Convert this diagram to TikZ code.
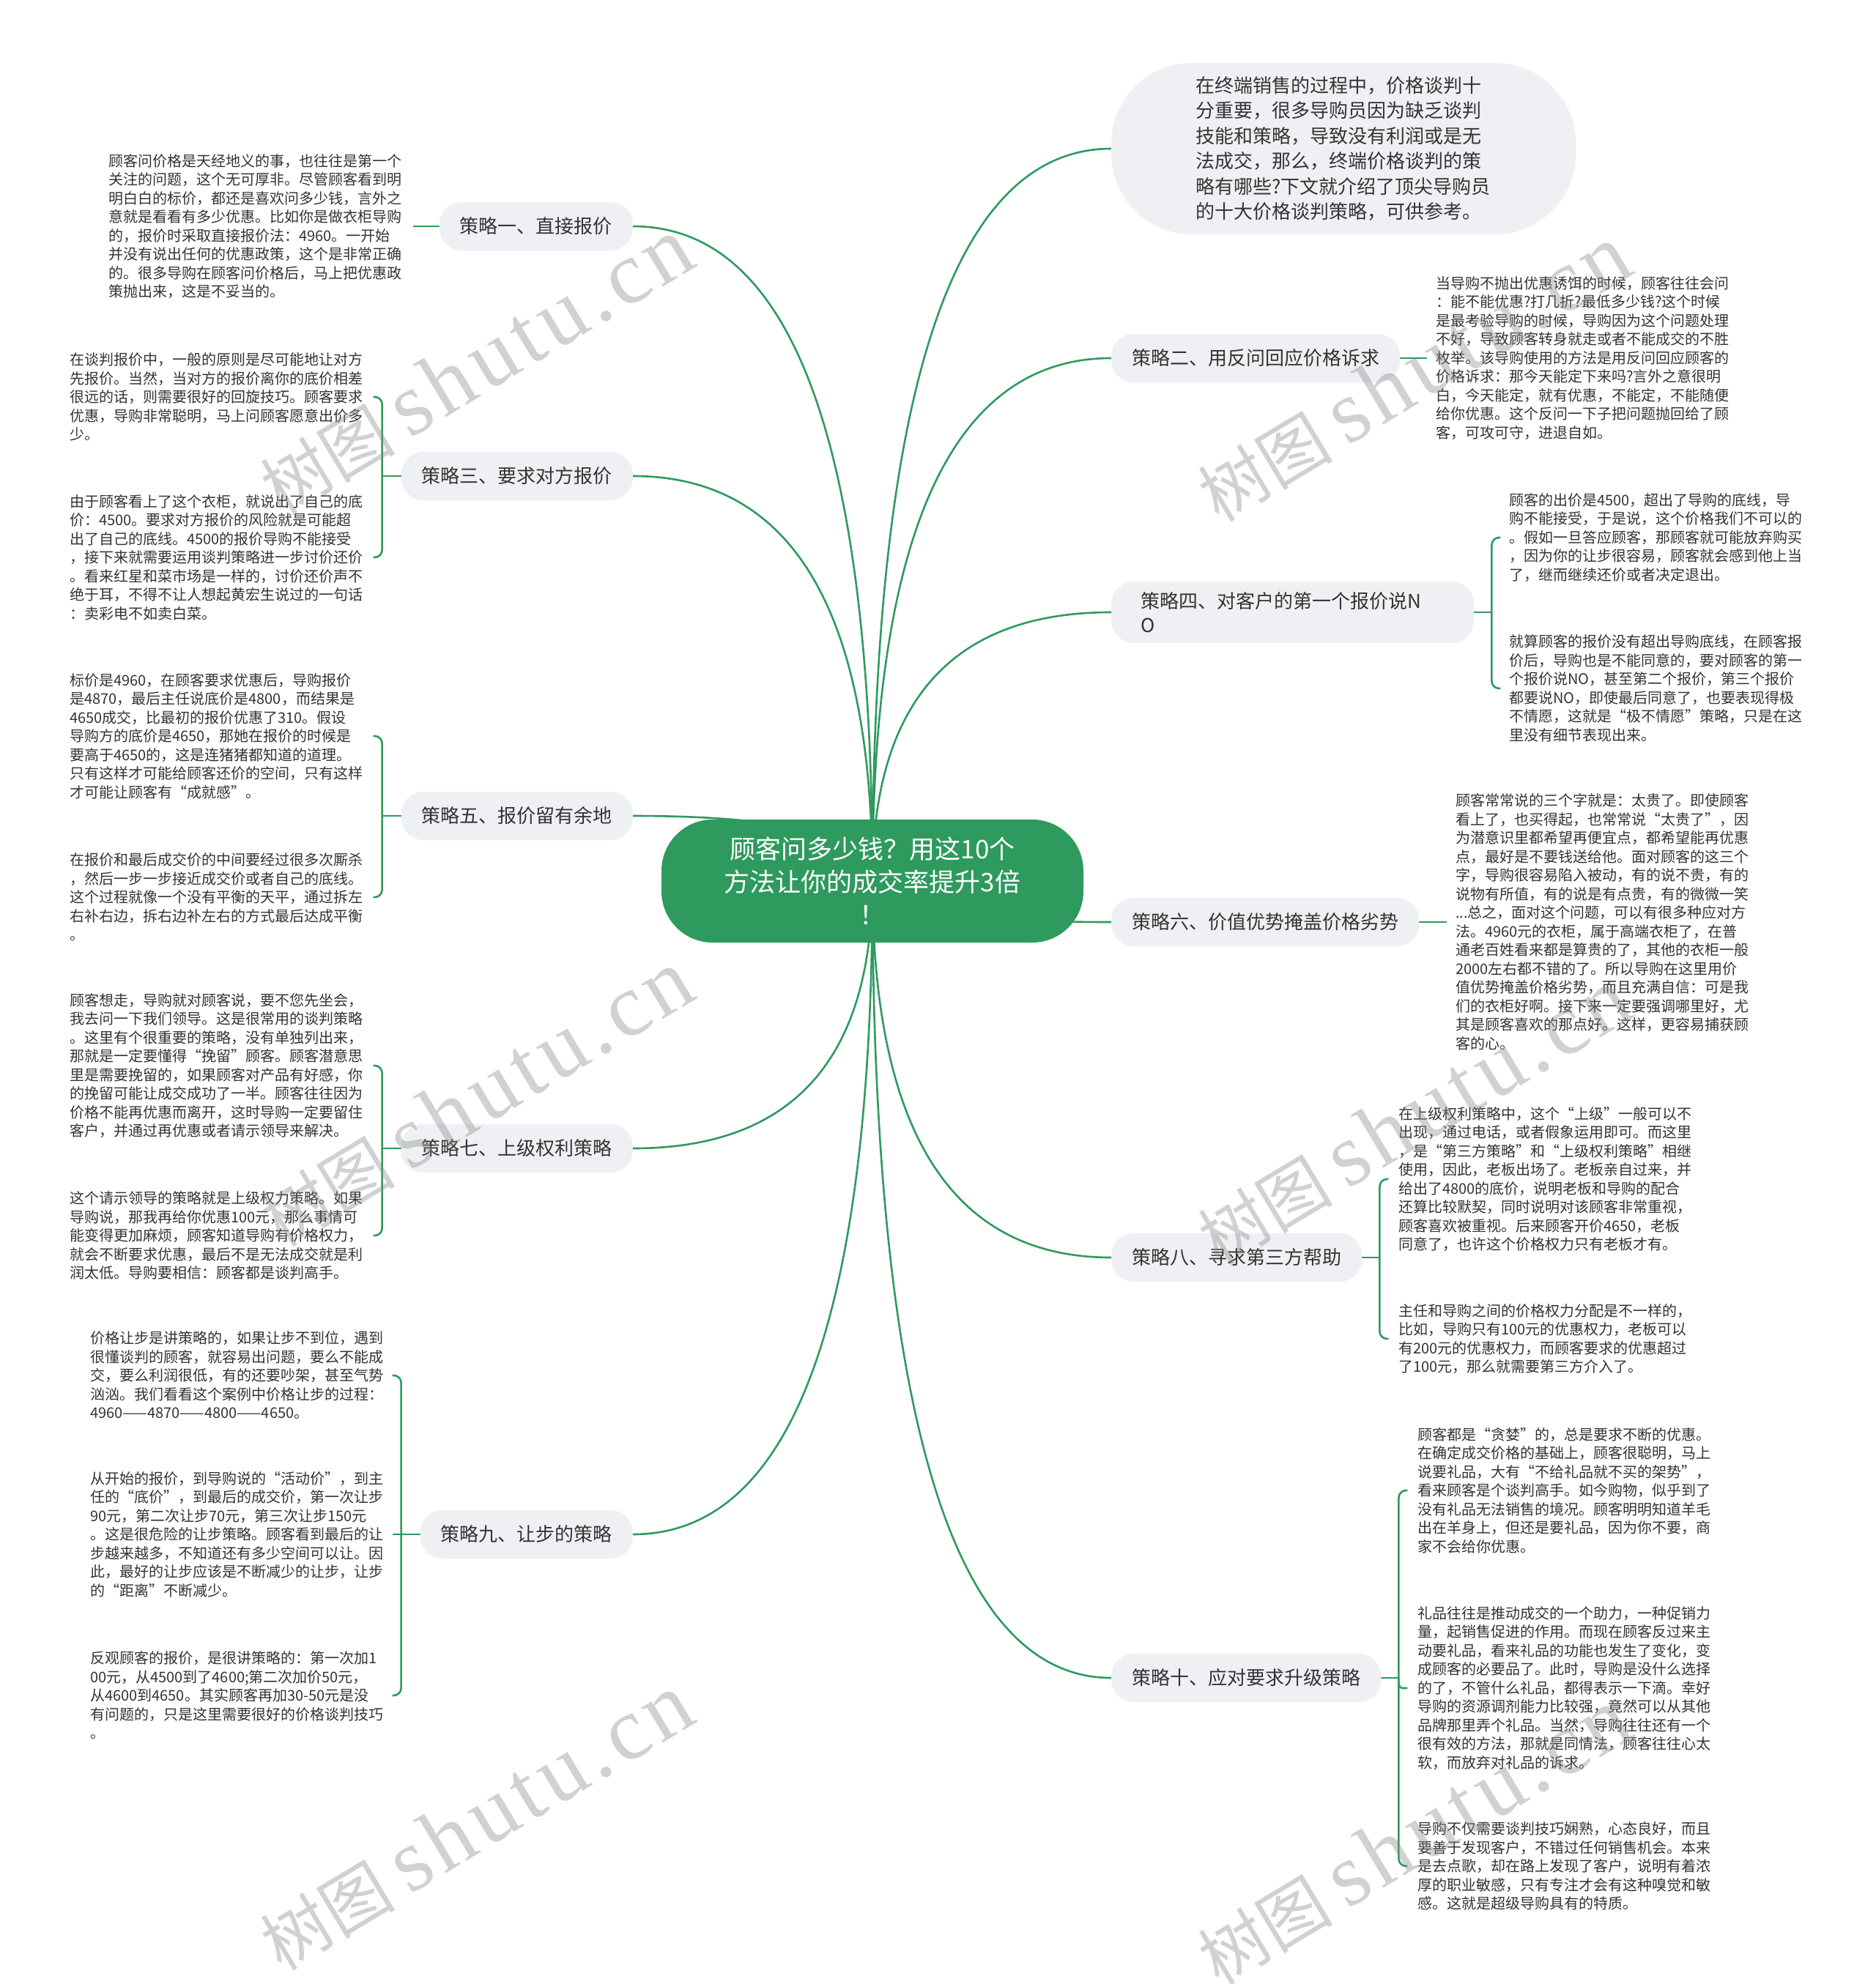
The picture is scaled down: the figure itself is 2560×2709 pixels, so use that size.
\documentclass[tikz,border=0pt]{standalone}
\usepackage{fontspec}
\setmainfont{Noto Sans CJK SC}
\newfontfamily\wmlatin[LetterSpace=6]{Liberation Serif}
\usetikzlibrary{calc}
\pgfdeclarelayer{back}
\pgfdeclarelayer{lines}
\pgfdeclarelayer{front}
\pgfsetlayers{back,lines,main,front}
\definecolor{mgreen}{HTML}{2E9A5E}
\definecolor{pillbg}{HTML}{EEF0F3}
\definecolor{txt}{HTML}{333333}
\tikzset{
  conn/.style={draw=mgreen, line width=2.6pt},
  rootbox/.style={fill=mgreen, text=white, rounded corners=70pt, minimum width=576pt, minimum height=168pt, align=center, font=\fontsize{35}{45}\selectfont, inner sep=0pt},
  pill/.style={fill=pillbg, rounded corners=30pt, text=txt, font=\fontsize{26}{33}\selectfont, inner xsep=28pt, inner ysep=0pt, minimum height=66pt},
  bubble/.style={fill=pillbg, rounded corners=110pt, text=txt, font=\fontsize{26}{34.5}\selectfont, minimum width=634pt, minimum height=234pt, text width=404pt, align=left},
  desc/.style={text=txt, font=\fontsize{20}{25.5}\selectfont, text width=404pt, align=left, inner sep=0pt},
  wm/.style={text=black!45, text opacity=0.4, font=\fontsize{92}{92}\selectfont, rotate=31, inner sep=0pt},
}
\newcommand\rootlink[1]{%
  \draw[conn] (root.center) .. controls ($(root.center)!0.6667!(root.center|-#1)$) and ($(#1)!0.6667!(root.center|-#1)$) .. (#1);}
\newcommand\wmtext{树图 {\fontsize{122}{122}\selectfont\wmlatin shutu.cn}}
\begin{document}
\begin{tikzpicture}[x=1pt,y=-1pt]
\begin{pgfonlayer}{back}
\fill[white] (0,0) rectangle (2560,2709);
\end{pgfonlayer}
\useasboundingbox (0,0) rectangle (2560,2709);

% root
\node[rootbox] (root) at (1191,1203) {顾客问多少钱？用这10个\\方法让你的成交率提升3倍\\！};

% left branches
\node[pill, anchor=east] (b1) at (864,309) {策略一、直接报价};
\node[pill, anchor=east, minimum width=315pt] (b3) at (864,650) {策略三、要求对方报价};
\node[pill, anchor=east, minimum width=315pt] (b5) at (864,1114) {策略五、报价留有余地};
\node[pill, anchor=east, minimum width=315pt] (b7) at (864,1568) {策略七、上级权利策略};
\node[pill, anchor=east] (b9) at (864,2095) {策略九、让步的策略};

% right branches
\node[bubble, anchor=west] (intro) at (1517,203) {在终端销售的过程中，价格谈判十\\分重要，很多导购员因为缺乏谈判\\技能和策略，导致没有利润或是无\\法成交，那么，终端价格谈判的策\\略有哪些?下文就介绍了顶尖导购员\\的十大价格谈判策略，可供参考。};
\node[pill, anchor=west] (b2) at (1517,489) {策略二、用反问回应价格诉求};
\node[pill, anchor=west, text width=415pt, align=left, inner xsep=40pt, inner ysep=14pt] (b4) at (1517,836) {策略四、对客户的第一个报价说N\\O};
\node[pill, anchor=west] (b6) at (1517,1259) {策略六、价值优势掩盖价格劣势};
\node[pill, anchor=west] (b8) at (1517,1717) {策略八、寻求第三方帮助};
\node[pill, anchor=west] (b10) at (1517,2291) {策略十、应对要求升级策略};

% left texts
\node[desc, anchor=west] (c1) at (148,309) {顾客问价格是天经地义的事，也往往是第一个\\关注的问题，这个无可厚非。尽管顾客看到明\\明白白的标价，都还是喜欢问多少钱，言外之\\意就是看看有多少优惠。比如你是做衣柜导购\\的，报价时采取直接报价法：4960。一开始\\并没有说出任何的优惠政策，这个是非常正确\\的。很多导购在顾客问价格后，马上把优惠政\\策抛出来，这是不妥当的。};

\node[desc, anchor=west] (c3a) at (95,542) {在谈判报价中，一般的原则是尽可能地让对方\\先报价。当然，当对方的报价离你的底价相差\\很远的话，则需要很好的回旋技巧。顾客要求\\优惠，导购非常聪明，马上问顾客愿意出价多\\少。};
\node[desc, anchor=west] (c3b) at (95,761) {由于顾客看上了这个衣柜，就说出了自己的底\\价：4500。要求对方报价的风险就是可能超\\出了自己的底线。4500的报价导购不能接受\\，接下来就需要运用谈判策略进一步讨价还价\\。看来红星和菜市场是一样的，讨价还价声不\\绝于耳，不得不让人想起黄宏生说过的一句话\\：卖彩电不如卖白菜。};

\node[desc, anchor=west] (c5a) at (95,1005) {标价是4960，在顾客要求优惠后，导购报价\\是4870，最后主任说底价是4800，而结果是\\4650成交，比最初的报价优惠了310。假设\\导购方的底价是4650，那她在报价的时候是\\要高于4650的，这是连猪猪都知道的道理。\\只有这样才可能给顾客还价的空间，只有这样\\才可能让顾客有“成就感”。};
\node[desc, anchor=west] (c5b) at (95,1225) {在报价和最后成交价的中间要经过很多次厮杀\\，然后一步一步接近成交价或者自己的底线。\\这个过程就像一个没有平衡的天平，通过拆左\\右补右边，拆右边补左右的方式最后达成平衡\\。};

\node[desc, anchor=west] (c7a) at (95,1455) {顾客想走，导购就对顾客说，要不您先坐会，\\我去问一下我们领导。这是很常用的谈判策略\\。这里有个很重要的策略，没有单独列出来，\\那就是一定要懂得“挽留”顾客。顾客潜意思\\里是需要挽留的，如果顾客对产品有好感，你\\的挽留可能让成交成功了一半。顾客往往因为\\价格不能再优惠而离开，这时导购一定要留住\\客户，并通过再优惠或者请示领导来解决。};
\node[desc, anchor=west] (c7b) at (95,1687) {这个请示领导的策略就是上级权力策略。如果\\导购说，那我再给你优惠100元，那么事情可\\能变得更加麻烦，顾客知道导购有价格权力，\\就会不断要求优惠，最后不是无法成交就是利\\润太低。导购要相信：顾客都是谈判高手。};

\node[desc, anchor=west] (c9a) at (123,1878) {价格让步是讲策略的，如果让步不到位，遇到\\很懂谈判的顾客，就容易出问题，要么不能成\\交，要么利润很低，有的还要吵架，甚至气势\\汹汹。我们看看这个案例中价格让步的过程：\\4960——4870——4800——4650。};
\node[desc, anchor=west] (c9b) at (123,2095) {从开始的报价，到导购说的“活动价”，到主\\任的“底价”，到最后的成交价，第一次让步\\90元，第二次让步70元，第三次让步150元\\。这是很危险的让步策略。顾客看到最后的让\\步越来越多，不知道还有多少空间可以让。因\\此，最好的让步应该是不断减少的让步，让步\\的“距离”不断减少。};
\node[desc, anchor=west] (c9c) at (123,2315) {反观顾客的报价，是很讲策略的：第一次加1\\00元，从4500到了4600;第二次加价50元，\\从4600到4650。其实顾客再加30-50元是没\\有问题的，只是这里需要很好的价格谈判技巧\\。};

% right texts
\node[desc, anchor=west] (c2) at (1960,489) {当导购不抛出优惠诱饵的时候，顾客往往会问\\：能不能优惠?打几折?最低多少钱?这个时候\\是最考验导购的时候，导购因为这个问题处理\\不好，导致顾客转身就走或者不能成交的不胜\\枚举。该导购使用的方法是用反问回应顾客的\\价格诉求：那今天能定下来吗?言外之意很明\\白，今天能定，就有优惠，不能定，不能随便\\给你优惠。这个反问一下子把问题抛回给了顾\\客，可攻可守，进退自如。};

\node[desc, anchor=west] (c4a) at (2060,734) {顾客的出价是4500，超出了导购的底线，导\\购不能接受，于是说，这个价格我们不可以的\\。假如一旦答应顾客，那顾客就可能放弃购买\\，因为你的让步很容易，顾客就会感到他上当\\了，继而继续还价或者决定退出。};
\node[desc, anchor=west] (c4b) at (2060,940) {就算顾客的报价没有超出导购底线，在顾客报\\价后，导购也是不能同意的，要对顾客的第一\\个报价说NO，甚至第二个报价，第三个报价\\都要说NO，即使最后同意了，也要表现得极\\不情愿，这就是“极不情愿”策略，只是在这\\里没有细节表现出来。};

\node[desc, anchor=west] (c6) at (1987,1259) {顾客常常说的三个字就是：太贵了。即使顾客\\看上了，也买得起，也常常说“太贵了”，因\\为潜意识里都希望再便宜点，都希望能再优惠\\点，最好是不要钱送给他。面对顾客的这三个\\字，导购很容易陷入被动，有的说不贵，有的\\说物有所值，有的说是有点贵，有的微微一笑\\...总之，面对这个问题，可以有很多种应对方\\法。4960元的衣柜，属于高端衣柜了，在普\\通老百姓看来都是算贵的了，其他的衣柜一般\\2000左右都不错的了。所以导购在这里用价\\值优势掩盖价格劣势，而且充满自信：可是我\\们的衣柜好啊。接下来一定要强调哪里好，尤\\其是顾客喜欢的那点好。这样，更容易捕获顾\\客的心。};

\node[desc, anchor=west] (c8a) at (1909,1610) {在上级权利策略中，这个“上级”一般可以不\\出现，通过电话，或者假象运用即可。而这里\\，是“第三方策略”和“上级权利策略”相继\\使用，因此，老板出场了。老板亲自过来，并\\给出了4800的底价，说明老板和导购的配合\\还算比较默契，同时说明对该顾客非常重视，\\顾客喜欢被重视。后来顾客开价4650，老板\\同意了，也许这个价格权力只有老板才有。};
\node[desc, anchor=west] (c8b) at (1909,1828) {主任和导购之间的价格权力分配是不一样的，\\比如，导购只有100元的优惠权力，老板可以\\有200元的优惠权力，而顾客要求的优惠超过\\了100元，那么就需要第三方介入了。};

\node[desc, anchor=west] (c10a) at (1935,2035) {顾客都是“贪婪”的，总是要求不断的优惠。\\在确定成交价格的基础上，顾客很聪明，马上\\说要礼品，大有“不给礼品就不买的架势”，\\看来顾客是个谈判高手。如今购物，似乎到了\\没有礼品无法销售的境况。顾客明明知道羊毛\\出在羊身上，但还是要礼品，因为你不要，商\\家不会给你优惠。};
\node[desc, anchor=west] (c10b) at (1935,2305) {礼品往往是推动成交的一个助力，一种促销力\\量，起销售促进的作用。而现在顾客反过来主\\动要礼品，看来礼品的功能也发生了变化，变\\成顾客的必要品了。此时，导购是没什么选择\\的了，不管什么礼品，都得表示一下滴。幸好\\导购的资源调剂能力比较强，竟然可以从其他\\品牌那里弄个礼品。当然，导购往往还有一个\\很有效的方法，那就是同情法，顾客往往心太\\软，而放弃对礼品的诉求。};
\node[desc, anchor=west] (c10c) at (1935,2548) {导购不仅需要谈判技巧娴熟，心态良好，而且\\要善于发现客户，不错过任何销售机会。本来\\是去点歌，却在路上发现了客户，说明有着浓\\厚的职业敏感，只有专注才会有这种嗅觉和敏\\感。这就是超级导购具有的特质。};

% connectors
\begin{pgfonlayer}{lines}
\rootlink{intro.west}
\rootlink{b1.east}
\rootlink{b2.west}
\rootlink{b3.east}
\rootlink{b4.west}
\rootlink{b5.east}
\rootlink{b6.west}
\rootlink{b7.east}
\rootlink{b8.west}
\rootlink{b9.east}
\rootlink{b10.west}

% single children
\draw[conn] (b1.west) -- ($(b1.west -| c1.east)+(12,0)$);
\draw[conn] (b2.east) -- ($(b2.east -| c2.west)+(-12,0)$);
\draw[conn] (b6.east) -- ($(b6.east -| c6.west)+(-12,0)$);

% left brackets
\coordinate (j3) at ($(b3.west)+(-26,0)$);
\draw[conn] (b3.west) -- (j3);
\draw[conn, rounded corners=10pt] (j3) |- ($(j3|-c3a.east)+(-12,0)$);
\draw[conn, rounded corners=10pt] (j3) |- ($(j3|-c3b.east)+(-12,0)$);

\coordinate (j5) at ($(b5.west)+(-26,0)$);
\draw[conn] (b5.west) -- (j5);
\draw[conn, rounded corners=10pt] (j5) |- ($(j5|-c5a.east)+(-12,0)$);
\draw[conn, rounded corners=10pt] (j5) |- ($(j5|-c5b.east)+(-12,0)$);

\coordinate (j7) at ($(b7.west)+(-26,0)$);
\draw[conn] (b7.west) -- (j7);
\draw[conn, rounded corners=10pt] (j7) |- ($(j7|-c7a.east)+(-12,0)$);
\draw[conn, rounded corners=10pt] (j7) |- ($(j7|-c7b.east)+(-12,0)$);

\coordinate (j9) at ($(b9.west)+(-26,0)$);
\draw[conn] (b9.west) -- (j9);
\draw[conn, rounded corners=10pt] (j9) |- ($(j9|-c9a.east)+(-12,0)$);
\draw[conn] (j9) -- ($(j9|-c9b.east)+(-12,0)$);
\draw[conn, rounded corners=10pt] (j9) |- ($(j9|-c9c.east)+(-12,0)$);

% right brackets
\coordinate (j4) at ($(b4.east)+(24,0)$);
\draw[conn] (b4.east) -- (j4);
\draw[conn, rounded corners=10pt] (j4) |- ($(j4|-c4a.west)+(12,0)$);
\draw[conn, rounded corners=10pt] (j4) |- ($(j4|-c4b.west)+(12,0)$);

\coordinate (j8) at ($(b8.east)+(24,0)$);
\draw[conn] (b8.east) -- (j8);
\draw[conn, rounded corners=10pt] (j8) |- ($(j8|-c8a.west)+(12,0)$);
\draw[conn, rounded corners=10pt] (j8) |- ($(j8|-c8b.west)+(12,0)$);

\coordinate (j10) at ($(b10.east)+(24,0)$);
\draw[conn] (b10.east) -- (j10);
\draw[conn, rounded corners=10pt] (j10) |- ($(j10|-c10a.west)+(12,0)$);
\draw[conn, rounded corners=6pt] (j10) |- ($(j10|-c10b.west)+(12,0)$);
\draw[conn, rounded corners=10pt] (j10) |- ($(j10|-c10c.west)+(12,0)$);
\end{pgfonlayer}

% watermarks
\begin{pgfonlayer}{front}
\node[wm] (w1) at (650,500) {\wmtext};
\node[wm] (w2) at (1930,510) {\wmtext};
\node[wm] (w3) at (650,1500) {\wmtext};
\node[wm] (w4) at (1930,1525) {\wmtext};
\node[wm] (w5) at (650,2488) {\wmtext};
\node[wm] (w6) at (1930,2508) {\wmtext};
\end{pgfonlayer}
\end{tikzpicture}
\end{document}
